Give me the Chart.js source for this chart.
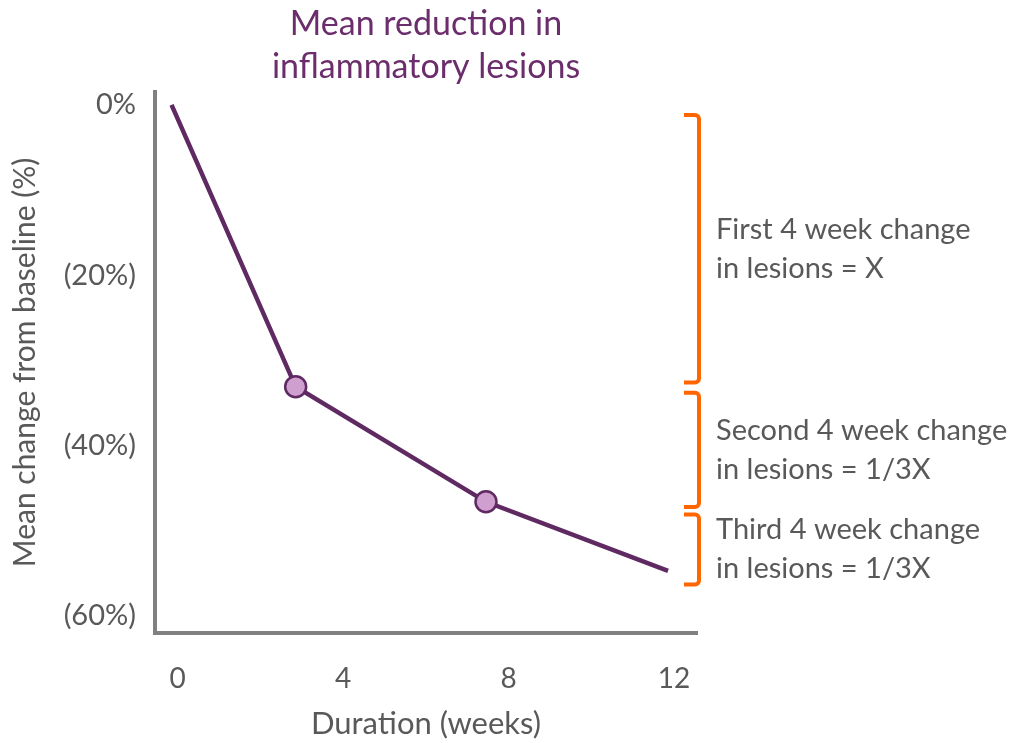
<!DOCTYPE html>
<html>
<head>
<meta charset="utf-8">
<script src="https://cdn.jsdelivr.net/npm/chart.js@4.4.1/dist/chart.umd.min.js"></script>
<style>
  html, body { margin: 0; padding: 0; background: #ffffff; }
  #wrap { width: 1016px; height: 743px; }
</style>
</head>
<body>
<div id="wrap"><canvas id="c" width="1016" height="743"></canvas></div>
<script>
// ---- data ----
const weeks = [0, 3, 7.6, 12];
const meanChange = [0, -33.1, -46.6, -54.7];
const xTicks = [0, 4, 8, 12];
const yTicks = [-60, -40, -20, 0];
const yTickLabels = ['(60%)', '(40%)', '(20%)', '0%'];
const titleLines = ['Mean reduction in', 'inflammatory lesions'];
const xTitle = 'Duration (weeks)';
const yTitle = 'Mean change from baseline (%)';
const bracketFrom = [-1.2, -33.8, -48.1];
const bracketTo = [-32.6, -47.2, -56.3];
const bracketText = [
  ['First 4 week change', 'in lesions = X'],
  ['Second 4 week change', 'in lesions = 1/3X'],
  ['Third 4 week change', 'in lesions = 1/3X']
];

const FONT = 'Lato, "Open Sans", sans-serif';
const GREY = '#595959';

const bracketPlugin = {
  id: 'brackets',
  afterDraw(chart) {
    const ctx = chart.ctx;
    const y = chart.scales.y;
    const xr = chart.chartArea.right + 2;
    const hook = 15;
    const r = 4;
    ctx.save();
    ctx.strokeStyle = '#ff6600';
    ctx.lineWidth = 4;
    ctx.lineJoin = 'round';
    ctx.lineCap = 'butt';
    for (let i = 0; i < bracketFrom.length; i++) {
      const y1 = y.getPixelForValue(bracketFrom[i]);
      const y2 = y.getPixelForValue(bracketTo[i]);
      ctx.beginPath();
      ctx.moveTo(xr - hook, y1);
      ctx.arcTo(xr, y1, xr, y2, r);
      ctx.arcTo(xr, y2, xr - hook, y2, r);
      ctx.lineTo(xr - hook, y2);
      ctx.stroke();
      const mid = (y1 + y2) / 2;
      ctx.fillStyle = GREY;
      ctx.font = '29px ' + FONT;
      ctx.textAlign = 'left';
      ctx.textBaseline = 'middle';
      const lines = bracketText[i];
      const lh = 39;
      lines.forEach((t, k) => {
        ctx.fillText(t, xr + 17, mid + (k - (lines.length - 1) / 2) * lh);
      });
    }
    ctx.restore();
  }
};

new Chart(document.getElementById('c'), {
  type: 'line',
  data: {
    datasets: [{
      data: weeks.map((w, i) => ({ x: w, y: meanChange[i] })),
      borderColor: '#5f2a62',
      borderWidth: 4.5,
      tension: 0,
      pointRadius: ctx => (ctx.dataIndex === 0 || ctx.dataIndex === weeks.length - 1) ? 0 : 10.5,
      pointBackgroundColor: '#cf9fcf',
      pointBorderColor: '#5f2a62',
      pointBorderWidth: 2.5,
      clip: false
    }]
  },
  plugins: [bracketPlugin],
  options: {
    responsive: false,
    animation: false,
    events: [],
    layout: { padding: { left: 0, right: 319, top: 0, bottom: 0 } },
    plugins: {
      legend: { display: false },
      tooltip: { enabled: false },
      title: {
        display: true,
        text: titleLines,
        fullSize: false,
        color: '#6b2d6b',
        font: { family: FONT, size: 34, weight: 'normal', lineHeight: 1.265 },
        padding: { top: 3, bottom: 3 }
      }
    },
    scales: {
      x: {
        type: 'linear',
        min: -0.4,
        max: 12.7,
        afterBuildTicks: s => { s.ticks = xTicks.map(v => ({ value: v })); },
        afterFit: s => { s.height = 110; },
        grid: { display: false, drawTicks: false },
        border: { display: true, color: '#808080', width: 4 },
        ticks: {
          color: GREY,
          font: { family: FONT, size: 28 },
          padding: 29,
          labelOffset: 6,
          maxRotation: 0,
          autoSkip: false
        },
        title: {
          display: true,
          text: xTitle,
          color: GREY,
          font: { family: FONT, size: 31 },
          padding: { top: 0, bottom: 0 }
        }
      },
      y: {
        type: 'linear',
        min: -62,
        max: 1.5,
        afterBuildTicks: s => { s.ticks = yTicks.map(v => ({ value: v })); },
        afterFit: s => { s.width = 155; },
        grid: { display: false, drawTicks: false },
        border: { display: true, color: '#808080', width: 4 },
        ticks: {
          color: GREY,
          font: { family: FONT, size: 29 },
          padding: 19,
          autoSkip: false,
          callback: (v) => {
            const i = yTicks.indexOf(v);
            return i >= 0 ? yTickLabels[i] : '';
          }
        },
        title: {
          display: true,
          text: yTitle,
          color: GREY,
          font: { family: FONT, size: 30 },
          padding: { top: 7, bottom: 0 }
        }
      }
    }
  }
});
</script>
</body>
</html>
